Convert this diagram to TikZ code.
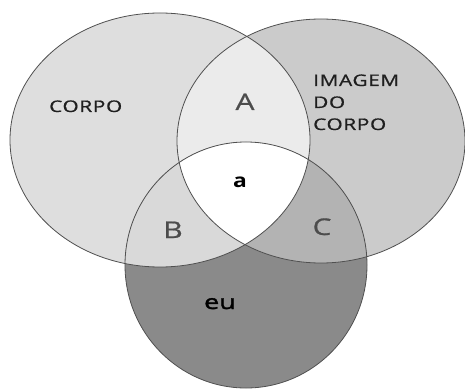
\documentclass[tikz,border=0pt]{standalone}
\usepackage{fontspec}
\newfontfamily\labfont[FakeStretch=1.3,LetterSpace=4,FakeBold=0.8]{Open Sans}
\newfontfamily\eufont[FakeStretch=1.35,FakeBold=1.6]{Open Sans}
\newfontfamily\labfontb[FakeStretch=1.2]{Open Sans Bold}
\definecolor{cL}{HTML}{DEDEDE}
\definecolor{cR}{HTML}{CBCBCB}
\definecolor{cA}{HTML}{EBEBEB}
\definecolor{cB}{HTML}{D9D9D9}
\definecolor{cC}{HTML}{B3B3B3}
\definecolor{cE}{HTML}{8A8A8A}
\definecolor{edge}{HTML}{505050}
\begin{document}
\begin{tikzpicture}[x=1pt,y=-1pt,
  outline/.style={draw=edge,line width=0.8pt},
  big/.style={inner sep=0pt,anchor=base,text=black!70,font=\labfont\fontsize{23}{26}\selectfont},
  word/.style={inner sep=0pt,anchor=base west,text=black!88,font=\labfont\fontsize{16}{20}\selectfont},
  bold/.style={inner sep=0pt,anchor=base,text=black,font=\labfontb\fontsize{19}{22}\selectfont},
  eustyle/.style={inner sep=0pt,anchor=base,text=black,font=\eufont\fontsize{20}{22}\selectfont}]
\useasboundingbox (0,0) rectangle (465,390);
\def\Lpath{(160,140) ellipse [x radius=150,y radius=127]}
\def\Rpath{(321,141) ellipse [x radius=144,y radius=122]}
\def\Epath{(246,265) ellipse [x radius=121,y radius=123]}
\fill[white] (0,0) rectangle (465,390);
\fill[cL] \Lpath;
\fill[cR] \Rpath;
\begin{scope}\clip \Rpath; \fill[cA] \Lpath; \end{scope}
\fill[cE] \Epath;
\begin{scope}\clip \Epath; \fill[cB] \Lpath; \end{scope}
\begin{scope}\clip \Epath; \fill[cC] \Rpath; \end{scope}
\begin{scope}\clip \Epath; \clip \Lpath; \fill[white] \Rpath; \end{scope}
\draw[outline] \Lpath;
\draw[outline] \Rpath;
\draw[outline] \Epath;
\node[word] (corpo) at (49,112) {CORPO};
\node[word] (imagem) at (313,86) {IMAGEM};
\node[word] (do) at (313,108) {DO};
\node[word] (corpo2) at (313,130) {CORPO};
\node[big] (A) at (245,110) {A};
\node[big] (B) at (173,238) {B};
\node[big] (C) at (322,235) {C};
\node[bold] (a) at (240,187) {a};
\node[eustyle] (eu) at (220,309) {eu};
\end{tikzpicture}
\end{document}
